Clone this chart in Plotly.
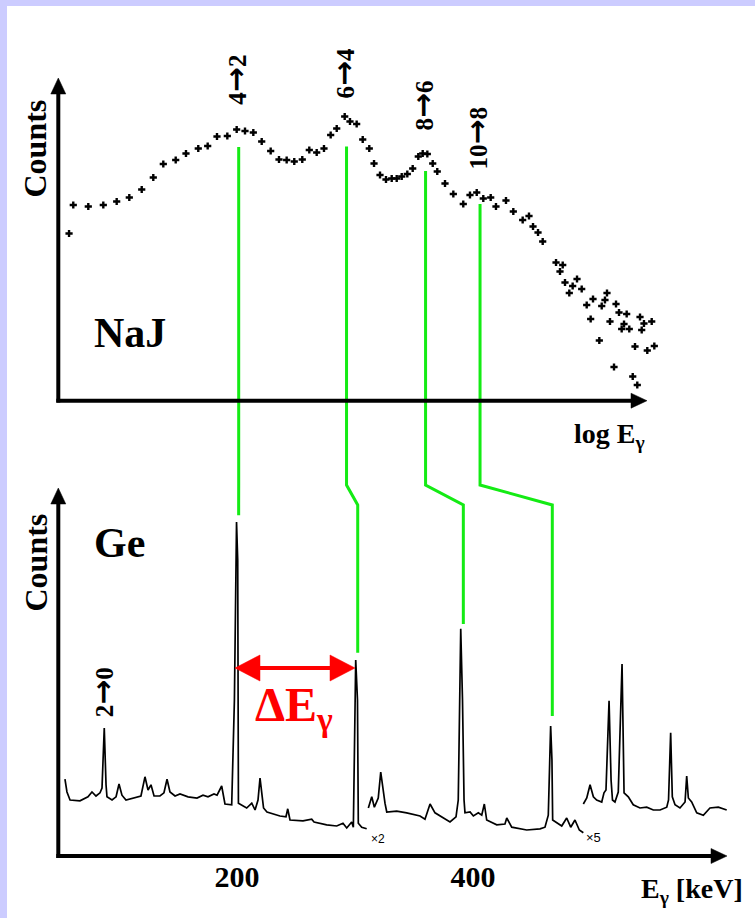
import plotly.graph_objects as go

W, H = 755, 918

# ---------------- data ----------------
# NaJ (scintillator) spectrum: x = log10(E / keV), y = counts (arb. units)
naj_logE = [2.040, 2.0465, 2.0696, 2.0927, 2.1133, 2.1327, 2.1518, 2.1696, 2.1850, 2.2041,
            2.2199, 2.2388, 2.2533, 2.2676, 2.2835, 2.2979, 2.3107, 2.3235, 2.3364, 2.3502,
            2.3630, 2.3748, 2.3865, 2.3988, 2.4096, 2.4210, 2.4322, 2.4425, 2.4518, 2.4641,
            2.4722, 2.4825, 2.4918, 2.5019, 2.5092, 2.5184, 2.5276, 2.5364, 2.5441, 2.5518,
            2.5604, 2.5687, 2.5773, 2.5841, 2.5912, 2.5995, 2.6065, 2.6184, 2.6312, 2.6465,
            2.6568, 2.6672, 2.6773, 2.6887, 2.6968, 2.7122, 2.7235, 2.7379, 2.7476, 2.7538,
            2.7615, 2.7687, 2.7892, 2.7995, 2.7953, 2.8215, 2.8030, 2.8148, 2.8287, 2.8096,
            2.8461, 2.8676, 2.8645, 2.8595, 2.8364, 2.8815, 2.8425, 2.8722, 2.8861, 2.8979,
            2.8938, 2.9019, 2.8902, 2.9184, 2.9245, 2.9364, 2.9210, 2.8558, 2.9107, 2.9296,
            2.9404, 2.8784, 2.9072, 2.9142]
naj_counts = [333, 390, 387, 390, 397, 405, 421, 445, 472, 480,
              493, 503, 508, 527, 528, 541, 538, 535, 517, 498,
              481, 480, 477, 481, 500, 495, 503, 530, 543, 567,
              557, 552, 521, 503, 473, 450, 441, 443, 443, 447,
              452, 463, 487, 493, 492, 473, 457, 433, 412, 392,
              410, 415, 403, 405, 387, 399, 377, 360, 368, 347,
              335, 317, 275, 270, 257, 242, 235, 228, 222, 214,
              202, 214, 200, 188, 190, 192, 162, 157, 175, 172,
              152, 142, 142, 166, 153, 157, 140, 119, 107, 99,
              108, 66, 47, 30]

# Ge (semiconductor) spectrum: x = E (keV), y = counts (arb. units); None separates the
# three recorded pieces (x1, x2, x5 gain sections)
ge_E = [54.2, 55.9, 58.5, 66.9, 73.7, 77.1, 80.5, 83.9, 85.6, 87.5,
        89.0, 89.8, 94.1, 97.5, 100.0, 102.5, 105.9, 113.6, 118.6, 122.0,
        124.6, 127.1, 129.7, 134.7, 138.1, 140.7, 143.2, 147.5, 151.7, 158.5,
        166.1, 171.2, 175.4, 180.5, 183.1, 187.0, 189.8, 195.5, 197.8, 199.6,
        200.6, 201.2, 208.2, 212.5, 215.3, 217.8, 219.5, 221.2, 222.5, 225.4,
        236.4, 241.5, 243.0, 244.9, 255.9, 263.3, 265.3, 276.0, 284.5, 289.8,
        293.0, 297.2, 298.6, 300.6, 302.1, 302.8, 305.7, 309.9, None,
        311.3, 314.2, 316.4, 319.7, 321.8, 323.7, 325.4, 326.9, 335.3, 343.8,
        355.1, 359.3, 362.1, 363.6, 367.8, 374.8, 380.5, 385.6, 387.5, 389.6,
        391.1, 392.4, 393.2, 397.5, 400.3, 404.5, 407.4, 409.6, 411.6, 420.1,
        427.1, 428.6, 432.8, 445.5, 456.8, 461.0, 463.8, 465.8, 466.9, 467.5,
        471.4, 475.2, 479.4, 482.8, 486.4, 490.1, 493.5, None,
        493.5, 496.4, 499.2, 502.0, 504.8, 509.1, 511.0, 512.7, 515.3, 517.0,
        518.2, 520.3, 523.1, 526.3, 528.0, 531.6, 535.8, 541.5, 547.2, 552.8,
        558.5, 564.2, 565.7, 567.5, 568.9, 571.2, 575.4, 579.7, 581.1, 582.5,
        585.3, 589.6, 595.2, 600.8, 607.9, 615.0]
ge_counts = [192, 160, 140, 138, 148, 160, 150, 158, 170, 320,
             178, 148, 140, 148, 180, 152, 140, 145, 150, 198,
             165, 178, 150, 150, 158, 192, 160, 150, 155, 148,
             145, 152, 148, 155, 152, 175, 130, 128, 390, 835,
             740, 132, 120, 132, 115, 140, 195, 152, 120, 110,
             100, 98, 118, 90, 88, 92, 85, 78, 75, 82,
             70, 85, 72, 490, 390, 82, 72, 68, None,
             120, 148, 122, 145, 210, 165, 132, 110, 112, 108,
             100, 92, 120, 130, 108, 95, 85, 98, 140, 568,
             390, 140, 108, 110, 100, 108, 102, 130, 90, 78,
             80, 95, 72, 65, 68, 72, 102, 325, 240, 90,
             82, 75, 95, 72, 90, 65, 58, None,
             130, 145, 178, 148, 140, 135, 158, 165, 388, 190,
             140, 135, 160, 480, 158, 148, 128, 120, 122, 115,
             115, 122, 140, 308, 148, 128, 120, 135, 200, 145,
             135, 108, 102, 120, 122, 115]

# transitions of the rotational band
top_labels = ["4→2", "6→4", "8→6", "10→8"]
top_label_counts = [640, 654, 588, 523]
naj_peak_logE = [2.301, 2.4669, 2.5885, 2.6723]
naj_peak_counts = [506, 507, 458, 392]
ge_peak_keV = [201.4, 302.3, 391.8, 467.2]
ge_peak_counts = [852, 508, 580, 350]
low_label = "2→0"
low_label_keV = 88.1
low_label_counts = 409
delta_arrow_keV = [198.3, 300.0]
delta_arrow_counts = 470
ge_ticks = [200, 400]

# ---------------- layout helpers (pixel -> paper) ----------------
def X(px):
    return px / W

def Y(py):
    return 1 - py / H

top_x_dom = [X(58), X(700)]
top_x_rng = [2.023, 3.0107]
top_y_dom = [Y(400), Y(40)]
top_y_rng = [0, 720]
ge_x_dom = [X(58), X(727)]
ge_x_rng = [48.3, 615.25]
ge_y_dom = [Y(856), Y(488)]
ge_y_rng = [0, 920]


def to_paper(v, dom, rng):
    return dom[0] + (v - rng[0]) / (rng[1] - rng[0]) * (dom[1] - dom[0])


def arrow_label(s):
    a, b = s.split("→")
    return a + '<span style="font-family:DejaVu Sans;font-size:30px">→</span>' + b


SERIF = "Liberation Serif"
GREEN = "rgb(20,235,20)"

fig = go.Figure()
fig.add_trace(go.Scatter(x=naj_logE, y=naj_counts, mode="markers",
                         marker=dict(symbol="cross", size=6, color="black"),
                         xaxis="x", yaxis="y", hoverinfo="skip", cliponaxis=False))
fig.add_trace(go.Scatter(x=ge_E, y=ge_counts, mode="lines", connectgaps=False,
                         line=dict(color="black", width=1.7),
                         xaxis="x2", yaxis="y2", hoverinfo="skip", cliponaxis=False))

shapes = []
# white panel on lavender frame
shapes.append(dict(type="rect", xref="paper", yref="paper", x0=X(7), x1=1.0, y0=0.0, y1=Y(6),
                   fillcolor="white", line=dict(width=0), layer="below"))
# green connector lines
bend1, bend2 = Y(485), Y(505)
for i in range(4):
    xt = to_paper(naj_peak_logE[i], top_x_dom, top_x_rng)
    yt = to_paper(naj_peak_counts[i], top_y_dom, top_y_rng)
    xb = to_paper(ge_peak_keV[i], ge_x_dom, ge_x_rng)
    yb = to_paper(ge_peak_counts[i], ge_y_dom, ge_y_rng)
    path = f"M{xt},{yt} L{xt},{bend1} L{xb},{bend2} L{xb},{yb}"
    shapes.append(dict(type="path", xref="paper", yref="paper", path=path,
                       line=dict(color=GREEN, width=3)))


def arrow_shape(x0, y0, x1, y1, color, width, head_len, head_half):
    """Straight arrow (pixel coords) from (x0,y0) to tip (x1,y1): line + filled triangle."""
    dx, dy = x1 - x0, y1 - y0
    L = (dx * dx + dy * dy) ** 0.5
    ux, uy = dx / L, dy / L
    bx, by = x1 - ux * head_len, y1 - uy * head_len
    shapes.append(dict(type="line", xref="paper", yref="paper",
                       x0=X(x0), y0=Y(y0), x1=X(bx + ux * 2), y1=Y(by + uy * 2),
                       line=dict(color=color, width=width)))
    px_, py_ = -uy * head_half, ux * head_half
    path = (f"M{X(x1)},{Y(y1)} L{X(bx + px_)},{Y(by + py_)} "
            f"L{X(bx - px_)},{Y(by - py_)} Z")
    shapes.append(dict(type="path", xref="paper", yref="paper", path=path,
                       fillcolor=color, line=dict(color=color, width=0.5)))


# axes with arrows
arrow_shape(58.3, 402.5, 58.3, 78, "black", 4, 16, 7.5)     # top y axis
arrow_shape(56.3, 400.7, 647, 400.7, "black", 4, 16, 7.5)   # top x axis
arrow_shape(58.3, 858, 58.3, 488, "black", 4, 16, 7.5)      # Ge y axis
arrow_shape(56.3, 856, 727, 856, "black", 4, 16, 7.5)       # Ge x axis

# delta E double arrow (from data positions)
def ge_px(e):
    return to_paper(e, ge_x_dom, ge_x_rng) * W

def ge_py(c):
    return (1 - to_paper(c, ge_y_dom, ge_y_rng)) * H

xa, xb_ = ge_px(delta_arrow_keV[0]), ge_px(delta_arrow_keV[1])
ya = ge_py(delta_arrow_counts)
xm = (xa + xb_) / 2
arrow_shape(xm, ya, xb_, ya, "red", 4, 25, 13)
arrow_shape(xm, ya, xa, ya, "red", 4, 25, 13)

ann = []
ann.append(dict(x=248.3, y=370, xref="x2", yref="y2", text="ΔE<sub>γ</sub>", showarrow=False,
                xanchor="center", yanchor="middle",
                font=dict(family=SERIF, size=48, color="red", weight="bold")))

# transition labels
for lab, lx, ly in zip(top_labels, naj_peak_logE, top_label_counts):
    ann.append(dict(x=lx, y=ly, xref="x", yref="y", text=arrow_label(lab), textangle=-90,
                    xanchor="center", yanchor="middle", xshift=-4,
                    showarrow=False, font=dict(family=SERIF, size=25, color="black", weight="bold")))
ann.append(dict(x=low_label_keV, y=low_label_counts, xref="x2", yref="y2", text=arrow_label(low_label),
                textangle=-90, showarrow=False, xanchor="center", yanchor="middle", xshift=-3,
                font=dict(family=SERIF, size=25, color="black", weight="bold")))

# gain marks
ann.append(dict(x=319.5, y=42, xref="x2", yref="y2", text="×2", showarrow=False,
                font=dict(family="Liberation Sans", size=12, color="black")))
ann.append(dict(x=501.7, y=47, xref="x2", yref="y2", text="×5", showarrow=False,
                font=dict(family="Liberation Sans", size=13, color="black")))

# axis titles and panel names
bold = lambda s: dict(family=SERIF, size=s, color="black", weight="bold")


def paper_text(px, py, text, size, angle=0):
    ann.append(dict(x=X(px), y=Y(py), xref="paper", yref="paper", text=text, textangle=angle,
                    xanchor="center", yanchor="middle", showarrow=False, font=bold(size)))


paper_text(35, 148.5, "Counts", 32, -90)
paper_text(35, 562.5, "Counts", 32, -90)
paper_text(130, 333, "NaJ", 42)
paper_text(119.5, 543, "Ge", 42)
paper_text(609.5, 436, "log E<sub>γ</sub>", 28)
paper_text(691.5, 890, "E<sub>γ</sub> [keV]", 28)

fig.update_layout(
    width=W, height=H, margin=dict(l=0, r=0, t=0, b=0),
    paper_bgcolor="rgb(204,204,255)", plot_bgcolor="rgba(0,0,0,0)",
    showlegend=False, shapes=shapes, annotations=ann,
    xaxis=dict(domain=top_x_dom, range=top_x_rng, visible=False, anchor="y"),
    yaxis=dict(domain=top_y_dom, range=top_y_rng, visible=False, anchor="x"),
    xaxis2=dict(domain=ge_x_dom, range=ge_x_rng, anchor="y2", showline=False, showgrid=False,
                zeroline=False, ticks="", tickvals=ge_ticks, ticktext=[str(t) for t in ge_ticks],
                tickfont=bold(30), ticklabelstandoff=0),
    yaxis2=dict(domain=ge_y_dom, range=ge_y_rng, visible=False, anchor="x2"),
)

fig.write_html("out.html", config={"displayModeBar": False},
               post_script="document.body.style.margin='0px';document.body.style.padding='0px';"
                           "document.body.style.overflow='hidden';")
